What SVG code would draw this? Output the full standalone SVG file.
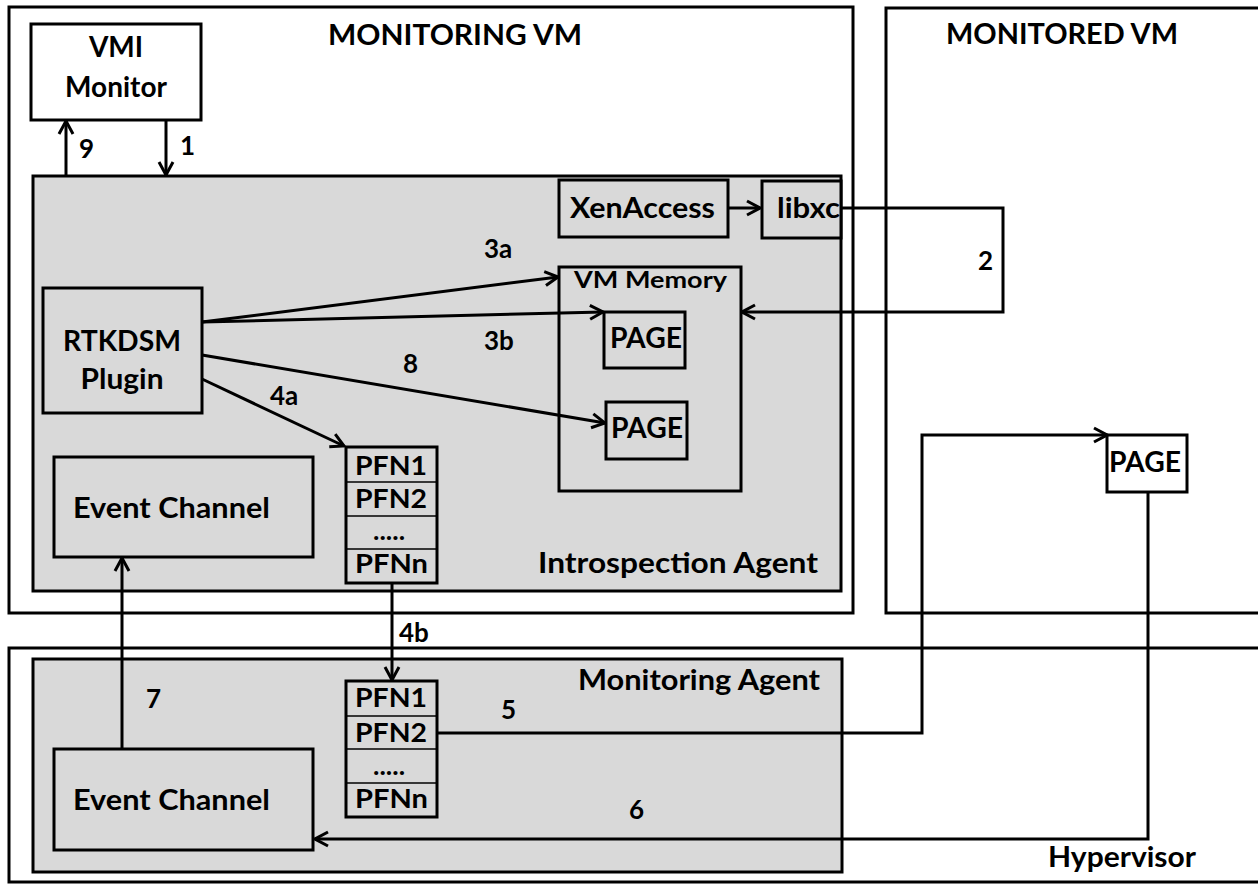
<svg xmlns="http://www.w3.org/2000/svg" width="1258" height="884" viewBox="0 0 1258 884">
<style>
.box{fill:#fff;stroke:#000;stroke-width:3}
.gray{fill:#d9d9d9;stroke:#000;stroke-width:3}
.sep{stroke:#000;stroke-width:1.5}
.t{font-family:Lato,"Liberation Sans",sans-serif;font-weight:bold;fill:#000}
.big{font-size:28px}
.mid{font-size:27px}
.sm{font-size:22px}
.num{font-size:26px}
.c{fill:none;stroke:#000;stroke-width:3}
</style>
<defs>
<marker id="ah" markerUnits="userSpaceOnUse" markerWidth="18" markerHeight="18" viewBox="0 0 18 18" refX="16" refY="9" orient="auto">
<path d="M3,2 L16,9 L3,16" fill="none" stroke="#000" stroke-width="3"/>
</marker>
</defs>
<rect width="1258" height="884" fill="#fff"/>

<g id="monitoring-vm">
<rect class="box" x="9" y="7" width="844" height="606"/>
<text class="t big" x="328" y="45" textLength="254" lengthAdjust="spacingAndGlyphs">MONITORING  VM</text>
</g>
<g id="monitored-vm">
<rect class="box" x="886" y="8" width="400" height="605"/>
<text class="t big" x="946" y="44" textLength="232" lengthAdjust="spacingAndGlyphs">MONITORED VM</text>
</g>
<g id="hypervisor">
<rect class="box" x="9" y="648" width="1300" height="234"/>
<text class="t big" x="1048" y="867" textLength="148" lengthAdjust="spacingAndGlyphs">Hypervisor</text>
</g>

<g id="introspection-agent">
<rect class="gray" x="33" y="176" width="808" height="415"/>
<text class="t big" x="538" y="573" textLength="280" lengthAdjust="spacingAndGlyphs">Introspection  Agent</text>
</g>
<g id="monitoring-agent">
<rect class="gray" x="33" y="659" width="809" height="213"/>
<text class="t big" x="578" y="690" textLength="242" lengthAdjust="spacingAndGlyphs">Monitoring Agent</text>
</g>

<g id="vmi-monitor">
<rect class="box" x="31" y="24" width="170" height="96"/>
<text class="t big" x="116" y="57" text-anchor="middle">VMI</text>
<text class="t big" x="116" y="97" text-anchor="middle">Monitor</text>
</g>

<g id="xenaccess">
<rect class="gray" x="559" y="180" width="169" height="57"/>
<text class="t big" x="570" y="218" textLength="145" lengthAdjust="spacingAndGlyphs">XenAccess</text>
</g>
<g id="libxc">
<rect class="gray" x="762" y="181" width="79" height="57"/>
<text class="t big" x="777" y="218" textLength="63" lengthAdjust="spacingAndGlyphs">libxc</text>
</g>

<g id="vm-memory">
<rect class="gray" x="559" y="267" width="182" height="224"/>
<text class="t sm" x="574" y="288" textLength="153" lengthAdjust="spacingAndGlyphs">VM Memory</text>
</g>
<g id="page1">
<rect class="gray" x="604" y="312" width="81" height="56"/>
<text class="t big" x="610" y="348" textLength="72" lengthAdjust="spacingAndGlyphs">PAGE</text>
</g>
<g id="page2">
<rect class="gray" x="606" y="402" width="81" height="57"/>
<text class="t big" x="611" y="438" textLength="72" lengthAdjust="spacingAndGlyphs">PAGE</text>
</g>
<g id="page-monitored">
<rect class="box" x="1107" y="435" width="80" height="57"/>
<text class="t big" x="1109" y="472" textLength="72" lengthAdjust="spacingAndGlyphs">PAGE</text>
</g>

<g id="rtkdsm">
<rect class="gray" x="43" y="288" width="159" height="125"/>
<text class="t big" x="122" y="351" text-anchor="middle" textLength="118" lengthAdjust="spacingAndGlyphs">RTKDSM</text>
<text class="t big" x="122" y="389" text-anchor="middle" textLength="83" lengthAdjust="spacingAndGlyphs">Plugin</text>
</g>

<g id="pfn-upper">
<rect class="gray" x="346" y="447" width="91" height="136"/>
<line class="sep" x1="346" y1="482" x2="437" y2="482"/>
<line class="sep" x1="346" y1="516" x2="437" y2="516"/>
<line class="sep" x1="346" y1="549" x2="437" y2="549"/>
<text class="t mid" x="355" y="475" textLength="72" lengthAdjust="spacingAndGlyphs">PFN1</text>
<text class="t mid" x="355" y="508" textLength="72" lengthAdjust="spacingAndGlyphs">PFN2</text>
<text class="t mid" x="373" y="540">.....</text>
<text class="t mid" x="355" y="573" textLength="73" lengthAdjust="spacingAndGlyphs">PFNn</text>
</g>
<g id="pfn-lower">
<rect class="gray" x="346" y="681" width="91" height="136"/>
<line class="sep" x1="346" y1="716" x2="437" y2="716"/>
<line class="sep" x1="346" y1="749" x2="437" y2="749"/>
<line class="sep" x1="346" y1="783" x2="437" y2="783"/>
<text class="t mid" x="355" y="707" textLength="72" lengthAdjust="spacingAndGlyphs">PFN1</text>
<text class="t mid" x="355" y="742" textLength="72" lengthAdjust="spacingAndGlyphs">PFN2</text>
<text class="t mid" x="373" y="775">.....</text>
<text class="t mid" x="355" y="808" textLength="73" lengthAdjust="spacingAndGlyphs">PFNn</text>
</g>

<g id="event-channel-upper">
<rect class="gray" x="54" y="457" width="259" height="100"/>
<text class="t big" x="73" y="518" textLength="197" lengthAdjust="spacingAndGlyphs">Event Channel</text>
</g>
<g id="event-channel-lower">
<rect class="gray" x="54" y="749" width="259" height="101"/>
<text class="t big" x="73" y="810" textLength="197" lengthAdjust="spacingAndGlyphs">Event Channel</text>
</g>

<g id="connectors">
<path class="c" d="M66,176 V121" marker-end="url(#ah)"/>
<path class="c" d="M166,120 V175" marker-end="url(#ah)"/>
<path class="c" d="M728,208 H760" marker-end="url(#ah)"/>
<path class="c" d="M841,208 H1003 V312 H742" marker-end="url(#ah)"/>
<path class="c" d="M202,322 L558,277" marker-end="url(#ah)"/>
<path class="c" d="M202,322 L603,312" marker-end="url(#ah)"/>
<path class="c" d="M202,355 L605,423" marker-end="url(#ah)"/>
<path class="c" d="M202,379 L344,446" marker-end="url(#ah)"/>
<path class="c" d="M392,583 V680" marker-end="url(#ah)"/>
<path class="c" d="M437,733 H922 V435 H1107" marker-end="url(#ah)"/>
<path class="c" d="M1148,492 V839 H315" marker-end="url(#ah)"/>
<path class="c" d="M122,749 V558" marker-end="url(#ah)"/>
</g>

<g id="labels">
<text class="t num" x="79" y="158">9</text>
<text class="t num" x="180" y="155">1</text>
<text class="t num" x="978" y="270">2</text>
<text class="t num" x="484" y="258">3a</text>
<text class="t num" x="484" y="350">3b</text>
<text class="t num" x="403" y="373">8</text>
<text class="t num" x="270" y="405">4a</text>
<text class="t num" x="399" y="642">4b</text>
<text class="t num" x="501" y="719">5</text>
<text class="t num" x="629" y="819">6</text>
<text class="t num" x="146" y="708">7</text>
</g>
</svg>
